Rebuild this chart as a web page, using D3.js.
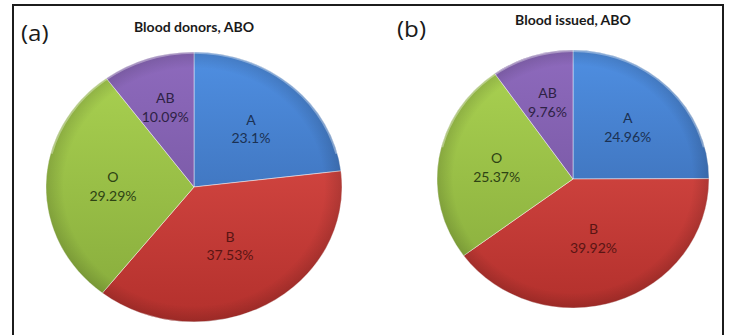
<!DOCTYPE html>
<html>
<head>
<meta charset="utf-8">
<script src="https://cdn.jsdelivr.net/npm/d3@7"></script>
<style>
  html, body { margin: 0; padding: 0; background: #fff; }
  svg { display: block; }
</style>
</head>
<body>
<svg id="chart" width="730" height="335"></svg>
<script>
// ABO blood group shares (%)
const categories = ["A", "B", "O", "AB"];
const donorsValues = [23.1, 37.53, 29.29, 10.09];
const issuedValues = [24.96, 39.92, 25.37, 9.76];
const panelTags = ["(a)", "(b)"];
const panelTitles = ["Blood donors, ABO", "Blood issued, ABO"];

const FONT = "Lato, 'Open Sans', sans-serif";
const STRETCH = 1.08; // the figure is slightly wider than tall

// slice colours: light top, dark bottom, label ink
const palette = {
  A:  { top: "#4f8fe2", bottom: "#3461a3", ink: "#1b3153" },
  B:  { top: "#e4524d", bottom: "#b3302c", ink: "#5a1513" },
  O:  { top: "#abd352", bottom: "#86aa3b", ink: "#2e4314" },
  AB: { top: "#8e6abd", bottom: "#6c4e96", ink: "#2e2245" }
};

const svg = d3.select("#chart");
const defs = svg.append("defs");

// outer frame (open at the bottom edge of the view)
svg.append("rect")
  .attr("x", 13).attr("y", 5)
  .attr("width", 710).attr("height", 400)
  .attr("fill", "none")
  .attr("stroke", "#1c1c1c")
  .attr("stroke-width", 2);

const panels = [
  { values: donorsValues, cx: 194, cy: 187, rx: 148, ry: 135,
    tagX: 21, tagY: 41, titleY: 32 },
  { values: issuedValues, cx: 573, cy: 179, rx: 136, ry: 129,
    tagX: 397, tagY: 37, titleY: 25 }
];

const pie = d3.pie().sort(null).value(d => d.value);

panels.forEach((p, pi) => {
  const data = categories.map((c, i) => ({ cat: c, value: p.values[i] }));
  const arcs = pie(data);
  const r = p.rx;
  const sy = p.ry / p.rx;

  // vertical shading per colour
  categories.forEach(c => {
    const g = defs.append("linearGradient")
      .attr("id", `grad-${pi}-${c}`)
      .attr("gradientUnits", "userSpaceOnUse")
      .attr("x1", 0).attr("x2", 0)
      .attr("y1", -r).attr("y2", r);
    g.append("stop").attr("offset", "0%").attr("stop-color", palette[c].top);
    g.append("stop").attr("offset", "100%").attr("stop-color", palette[c].bottom);
  });

  const rim = defs.append("radialGradient")
    .attr("id", `rim-${pi}`)
    .attr("gradientUnits", "userSpaceOnUse")
    .attr("cx", 0).attr("cy", 0).attr("r", r);
  rim.append("stop").attr("offset", "88%").attr("stop-color", "#000").attr("stop-opacity", 0);
  rim.append("stop").attr("offset", "100%").attr("stop-color", "#000").attr("stop-opacity", 0.14);

  const arc = d3.arc().innerRadius(0).outerRadius(r);

  const g = svg.append("g")
    .attr("transform", `translate(${p.cx},${p.cy}) scale(1,${sy})`);

  g.selectAll("path.slice")
    .data(arcs)
    .join("path")
    .attr("class", "slice")
    .attr("d", arc)
    .attr("fill", d => `url(#grad-${pi}-${d.data.cat})`)
    .attr("stroke", "rgba(255,255,255,0.45)")
    .attr("stroke-width", 1)
    .attr("vector-effect", "non-scaling-stroke");

  // soft darkening toward the rim
  g.append("circle")
    .attr("r", r)
    .attr("fill", `url(#rim-${pi})`)
    .attr("pointer-events", "none");

  // light highlight along the upper rim
  g.append("path")
    .attr("d", d3.arc().innerRadius(r - 2).outerRadius(r)
      ({ startAngle: -Math.PI * 0.42, endAngle: Math.PI * 0.42 }))
    .attr("fill", "rgba(255,255,255,0.35)");

  // labels near the area centroid of each slice
  const labels = svg.append("g");
  arcs.forEach(d => {
    const half = (d.endAngle - d.startAngle) / 2;
    const mid = d.startAngle + half;
    const k = 0.95 * (2 * Math.sin(half)) / (3 * half);
    const lx = p.cx + Math.sin(mid) * r * k;
    const ly = p.cy - Math.cos(mid) * p.ry * k;
    const t = labels.append("text")
      .attr("transform", `translate(${lx},${ly}) scale(${STRETCH},1)`)
      .attr("text-anchor", "middle")
      .attr("font-family", FONT)
      .attr("font-size", 13)
      .attr("fill", palette[d.data.cat].ink);
    t.append("tspan").attr("x", 0).attr("dy", "-0.3em").text(d.data.cat);
    t.append("tspan").attr("x", 0).attr("dy", "1.45em")
      .text(d3.format("")(d.data.value) + "%");
  });

  svg.append("text")
    .attr("transform", `translate(${p.cx},${p.titleY}) scale(${STRETCH},1)`)
    .attr("text-anchor", "middle")
    .attr("font-family", FONT)
    .attr("font-weight", "bold")
    .attr("font-size", 13)
    .attr("fill", "#1a1a1a")
    .text(panelTitles[pi]);

  svg.append("text")
    .attr("transform", `translate(${p.tagX},${p.tagY}) scale(1.15,1)`)
    .attr("font-family", "'Open Sans', sans-serif")
    .attr("font-size", 21)
    .attr("fill", "#1a1a1a")
    .text(panelTags[pi]);
});
</script>
</body>
</html>
